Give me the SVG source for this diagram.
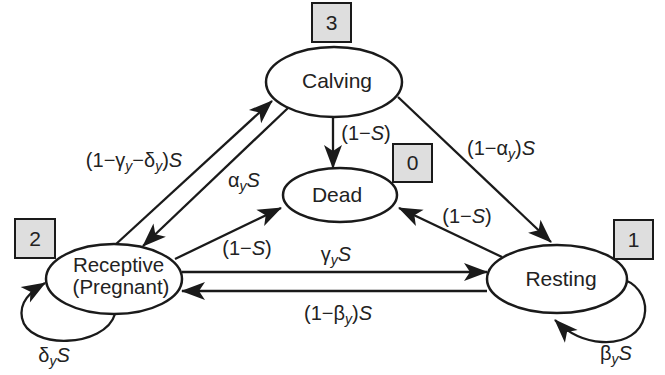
<svg xmlns="http://www.w3.org/2000/svg" width="665" height="375" viewBox="0 0 665 375">
<defs>
<marker id="ah" viewBox="-26 -11 28 22" refX="-1" refY="0" markerWidth="28" markerHeight="22" markerUnits="userSpaceOnUse" orient="auto">
<path d="M0,0 L-24,-9 L-18,0 L-24,9 Z" fill="#1a1a1a"/>
</marker>
</defs>
<style>
.node{fill:#fff;stroke:#1a1a1a;stroke-width:2.5}
.box{fill:#dedede;stroke:#1a1a1a;stroke-width:2}
.nt{font-family:"Liberation Sans",Arial,sans-serif;font-size:21px;fill:#222;text-anchor:middle}
.nt2{font-family:"Liberation Sans",Arial,sans-serif;font-size:20.5px;fill:#222;text-anchor:middle}
.lb{font-family:"Liberation Sans",Arial,sans-serif;font-size:20px;fill:#222;text-anchor:middle}
.it{font-style:italic}
.sb{font-style:italic;font-size:14px}
.edge{fill:none;stroke:#1a1a1a;stroke-width:2.3;marker-end:url(#ah)}
</style>
<rect width="665" height="375" fill="#fff"/>
<g id="connectors">
<line class="edge" x1="115" y1="245" x2="272" y2="101"/>
<line class="edge" x1="288" y1="108" x2="143" y2="246"/>
<line class="edge" x1="333" y1="117" x2="333" y2="168"/>
<line class="edge" x1="175" y1="259" x2="281" y2="208"/>
<line class="edge" x1="398" y1="97" x2="551" y2="242"/>
<line class="edge" x1="502" y1="257" x2="399" y2="208"/>
<line class="edge" x1="182" y1="272" x2="487" y2="272"/>
<line class="edge" x1="487" y1="291" x2="182" y2="291"/>
<path class="edge" d="M115,314 C105,348 28,350 22,318 C19,302 30,292 45,283"/>
<path class="edge" d="M625,280 C657,293 652,345 602,342 C585,341 568,333 555,320"/>
</g>
<g id="labels">
<text class="lb" x="134" y="167">(1−γ<tspan class="sb" dy="4">y</tspan><tspan dy="-4">−δ</tspan><tspan class="sb" dy="4">y</tspan><tspan dy="-4">)</tspan><tspan class="it">S</tspan></text>
<text class="lb" x="244" y="187">α<tspan class="sb" dy="4">y</tspan><tspan class="it" dy="-4">S</tspan></text>
<text class="lb" x="366" y="140">(1−<tspan class="it">S</tspan>)</text>
<text class="lb" x="501" y="155">(1−α<tspan class="sb" dy="4">y</tspan><tspan dy="-4">)</tspan><tspan class="it">S</tspan></text>
<text class="lb" x="467" y="223">(1−<tspan class="it">S</tspan>)</text>
<text class="lb" x="247" y="255">(1−<tspan class="it">S</tspan>)</text>
<text class="lb" x="336" y="261">γ<tspan class="sb" dy="4">y</tspan><tspan class="it" dy="-4">S</tspan></text>
<text class="lb" x="338" y="320">(1−β<tspan class="sb" dy="4">y</tspan><tspan dy="-4">)</tspan><tspan class="it">S</tspan></text>
<text class="lb" x="54" y="362">δ<tspan class="sb" dy="4">y</tspan><tspan class="it" dy="-4">S</tspan></text>
<text class="lb" x="616" y="360">β<tspan class="sb" dy="4">y</tspan><tspan class="it" dy="-4">S</tspan></text>
</g>
<g id="node-calving">
<ellipse class="node" cx="334" cy="82" rx="68" ry="35"/>
<text class="nt" x="337" y="88">Calving</text>
<rect class="box" x="312" y="3" width="39" height="39"/>
<text class="nt" x="331.5" y="30">3</text>
</g>
<g id="node-dead">
<ellipse class="node" cx="340" cy="195" rx="57" ry="27"/>
<text class="nt" x="337" y="202">Dead</text>
<rect class="box" x="393" y="144" width="39" height="38"/>
<text class="nt" x="412.5" y="170">0</text>
</g>
<g id="node-receptive">
<ellipse class="node" cx="114" cy="279" rx="68" ry="35"/>
<text class="nt2" x="118.5" y="272">Receptive</text>
<text class="nt2" x="121" y="293.5">(Pregnant)</text>
<rect class="box" x="15" y="219" width="40" height="39"/>
<text class="nt" x="35" y="246">2</text>
</g>
<g id="node-resting">
<ellipse class="node" cx="557" cy="279" rx="70" ry="34"/>
<text class="nt" x="561" y="286">Resting</text>
<rect class="box" x="614" y="220" width="39" height="39"/>
<text class="nt" x="633.5" y="247">1</text>
</g>
</svg>
